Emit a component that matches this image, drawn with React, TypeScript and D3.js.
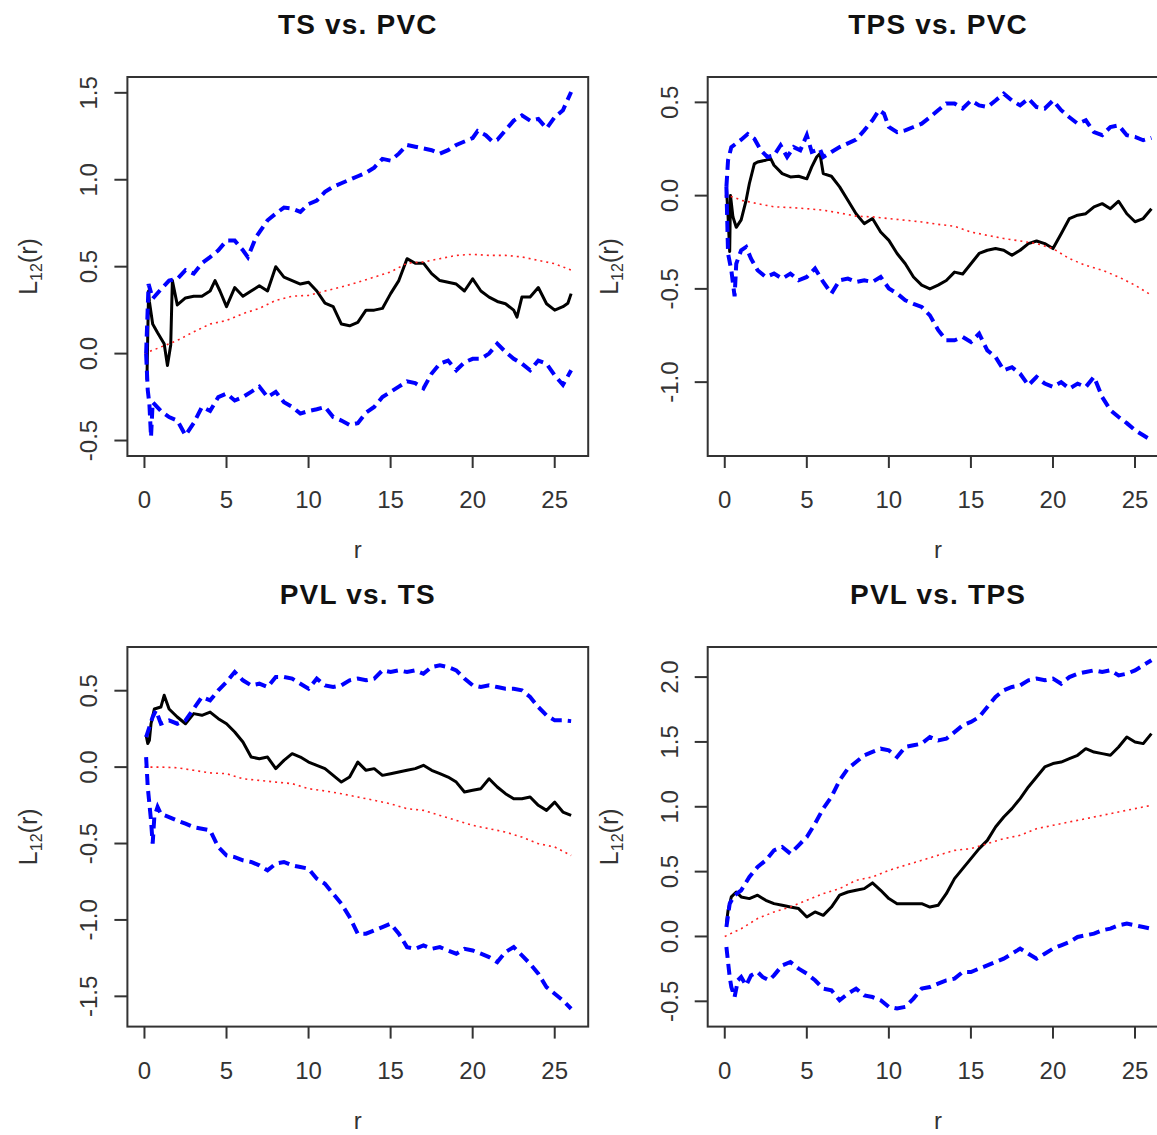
import React from "react";
import * as d3 from "d3";

// ---------- DATA (r, L12(r)) ----------
const TICKS_X = [0, 5, 10, 15, 20, 25];

// Panel 1: TS vs. PVC
const tsPvcObs: [number, number][] = [[0.15,-0.15],[0.25,0.36],[0.3,0.3],[0.5,0.17],[0.8,0.12],[1.2,0.057],[1.4,-0.068],[1.6,0.05],[1.7,0.42],[2,0.28],[2.5,0.32],[3,0.33],[3.5,0.33],[4,0.36],[4.3,0.42],[4.6,0.36],[5,0.27],[5.5,0.38],[6,0.33],[6.5,0.36],[7,0.39],[7.5,0.36],[8,0.5],[8.5,0.44],[9,0.42],[9.5,0.40],[10,0.41],[10.5,0.36],[11,0.29],[11.5,0.27],[12,0.17],[12.5,0.16],[13,0.18],[13.5,0.25],[14,0.25],[14.5,0.26],[15,0.345],[15.5,0.42],[16,0.546],[16.5,0.52],[17,0.52],[17.5,0.46],[18,0.42],[18.5,0.41],[19,0.40],[19.5,0.36],[20,0.43],[20.5,0.36],[21,0.325],[21.5,0.30],[22,0.287],[22.5,0.25],[22.7,0.21],[23,0.325],[23.5,0.325],[24,0.38],[24.5,0.287],[25,0.25],[25.5,0.27],[25.8,0.29],[26,0.345]];
const tsPvcTheo: [number, number][] = [[0,0],[1,0.038],[2,0.076],[3,0.125],[4,0.17],[5,0.19],[6,0.23],[7,0.26],[8,0.306],[9,0.33],[10,0.335],[11,0.36],[12,0.383],[13,0.41],[14,0.44],[15,0.47],[16,0.52],[17,0.527],[18,0.546],[19,0.565],[20,0.571],[21,0.565],[22,0.565],[23,0.556],[24,0.536],[25,0.517],[26,0.48]];
const tsPvcHi: [number, number][] = [[0.1,0.0],[0.25,0.40],[0.5,0.316],[1,0.37],[1.5,0.42],[2,0.43],[2.5,0.48],[3,0.46],[3.5,0.52],[4,0.555],[4.5,0.594],[5,0.65],[5.5,0.65],[6,0.594],[6.3,0.555],[6.8,0.67],[7.5,0.767],[8,0.805],[8.5,0.84],[9,0.834],[9.5,0.815],[10,0.86],[10.5,0.88],[11,0.93],[11.5,0.96],[12,0.98],[12.5,1.0],[13,1.02],[13.5,1.04],[14,1.07],[14.5,1.12],[15,1.11],[15.5,1.15],[16,1.20],[16.5,1.19],[17,1.18],[17.5,1.17],[18,1.15],[18.5,1.17],[19,1.20],[19.5,1.22],[20,1.24],[20.3,1.28],[20.8,1.256],[21.2,1.22],[21.5,1.23],[22,1.285],[22.5,1.34],[23,1.37],[23.5,1.34],[24,1.35],[24.5,1.295],[25,1.36],[25.5,1.40],[26,1.505]];
const tsPvcLo: [number, number][] = [[0.1,0.0],[0.2,-0.21],[0.3,-0.29],[0.4,-0.48],[0.5,-0.28],[1,-0.33],[1.5,-0.365],[2,-0.385],[2.5,-0.47],[3,-0.40],[3.5,-0.307],[4,-0.33],[4.5,-0.25],[5,-0.23],[5.5,-0.27],[6,-0.25],[6.5,-0.22],[7,-0.19],[7.5,-0.25],[8,-0.22],[8.5,-0.28],[9,-0.307],[9.5,-0.345],[10,-0.33],[10.5,-0.32],[11,-0.307],[11.5,-0.365],[12,-0.385],[12.5,-0.41],[13,-0.40],[13.5,-0.34],[14,-0.307],[14.5,-0.25],[15,-0.22],[15.5,-0.19],[16,-0.16],[16.5,-0.17],[17,-0.2],[17.5,-0.115],[18,-0.058],[18.5,-0.04],[19,-0.096],[19.5,-0.05],[20,-0.03],[20.5,-0.03],[21,0.0],[21.5,0.057],[22,0.01],[22.5,-0.03],[23,-0.058],[23.5,-0.096],[24,-0.04],[24.5,-0.058],[25,-0.125],[25.5,-0.18],[26,-0.096]];

// Panel 2: TPS vs. PVC
const tpsPvcObs: [number, number][] = [[0.1,0.047],[0.2,-0.11],[0.3,-0.3],[0.35,0.0],[0.5,-0.115],[0.7,-0.17],[1,-0.13],[1.3,-0.025],[1.5,0.065],[1.8,0.17],[2,0.18],[2.5,0.19],[2.8,0.198],[3,0.163],[3.5,0.118],[4,0.1],[4.5,0.104],[5,0.09],[5.3,0.154],[5.6,0.207],[5.8,0.225],[6,0.118],[6.5,0.104],[7,0.047],[7.5,-0.025],[8,-0.097],[8.5,-0.15],[9,-0.123],[9.5,-0.195],[10,-0.24],[10.5,-0.31],[11,-0.365],[11.5,-0.436],[12,-0.48],[12.5,-0.5],[13,-0.48],[13.5,-0.455],[14,-0.41],[14.5,-0.42],[15,-0.365],[15.5,-0.31],[16,-0.293],[16.5,-0.284],[17,-0.293],[17.5,-0.32],[18,-0.293],[18.5,-0.257],[19,-0.243],[19.5,-0.257],[20,-0.284],[20.5,-0.204],[21,-0.123],[21.5,-0.105],[22,-0.097],[22.5,-0.06],[23,-0.043],[23.5,-0.07],[24,-0.03],[24.5,-0.097],[25,-0.14],[25.5,-0.123],[26,-0.07]];
const tpsPvcTheo: [number, number][] = [[0,0],[0.5,-0.007],[1,-0.025],[2,-0.043],[3,-0.06],[4,-0.064],[5,-0.07],[6,-0.078],[7,-0.093],[8,-0.11],[9,-0.114],[10,-0.123],[11,-0.132],[12,-0.141],[13,-0.154],[14,-0.164],[15,-0.195],[16,-0.213],[17,-0.23],[18,-0.243],[19,-0.257],[20,-0.284],[21,-0.338],[22,-0.374],[23,-0.4],[24,-0.436],[25,-0.48],[26,-0.534]];
const tpsPvcHi: [number, number][] = [[0.1,0.047],[0.2,0.19],[0.4,0.26],[0.7,0.28],[1,0.30],[1.4,0.33],[1.8,0.305],[2.2,0.243],[2.6,0.207],[3,0.216],[3.4,0.27],[3.8,0.207],[4.2,0.26],[4.6,0.243],[5,0.324],[5.3,0.234],[5.8,0.25],[6,0.207],[6.5,0.234],[7,0.26],[7.5,0.28],[8,0.30],[8.5,0.35],[9,0.404],[9.4,0.458],[9.7,0.44],[10,0.368],[10.5,0.34],[11,0.35],[11.5,0.368],[12,0.386],[12.5,0.42],[13,0.458],[13.5,0.494],[14,0.494],[14.5,0.467],[15,0.51],[15.5,0.484],[16,0.475],[16.5,0.51],[17,0.547],[17.5,0.51],[18,0.484],[18.5,0.52],[19,0.475],[19.5,0.467],[20,0.51],[20.5,0.458],[21,0.42],[21.5,0.386],[22,0.404],[22.5,0.34],[23,0.324],[23.5,0.368],[24,0.377],[24.5,0.324],[25,0.315],[25.5,0.297],[26,0.31]];
const tpsPvcLo: [number, number][] = [[0.1,0.047],[0.2,-0.31],[0.4,-0.40],[0.6,-0.54],[0.7,-0.365],[1,-0.293],[1.3,-0.275],[1.6,-0.338],[2,-0.40],[2.5,-0.436],[3,-0.418],[3.5,-0.445],[4,-0.418],[4.5,-0.454],[5,-0.436],[5.5,-0.391],[6,-0.463],[6.5,-0.525],[7,-0.454],[7.5,-0.445],[8,-0.463],[8.5,-0.454],[9,-0.463],[9.5,-0.436],[10,-0.498],[10.5,-0.525],[11,-0.561],[11.5,-0.58],[12,-0.597],[12.5,-0.642],[13,-0.72],[13.5,-0.776],[14,-0.776],[14.5,-0.758],[15,-0.785],[15.5,-0.74],[16,-0.83],[16.5,-0.865],[17,-0.936],[17.5,-0.92],[18,-0.955],[18.5,-1.017],[19,-0.972],[19.5,-1.008],[20,-1.026],[20.5,-1.0],[21,-1.035],[21.5,-1.008],[22,-1.026],[22.5,-0.972],[23,-1.08],[23.5,-1.15],[24,-1.187],[24.5,-1.22],[25,-1.258],[25.5,-1.285],[26,-1.312]];

// Panel 3: PVL vs. TS
const pvlTsObs: [number, number][] = [[0.1,0.208],[0.2,0.154],[0.3,0.175],[0.4,0.284],[0.6,0.38],[1,0.393],[1.2,0.47],[1.5,0.38],[2,0.328],[2.5,0.284],[3,0.35],[3.5,0.339],[4,0.36],[4.5,0.317],[5,0.284],[5.5,0.23],[6,0.164],[6.5,0.066],[7,0.055],[7.5,0.066],[8,-0.01],[8.5,0.044],[9,0.088],[9.5,0.066],[10,0.033],[10.5,0.012],[11,-0.01],[11.5,-0.054],[12,-0.098],[12.5,-0.065],[13,0.033],[13.5,-0.021],[14,-0.01],[14.5,-0.054],[15,-0.043],[15.5,-0.032],[16,-0.021],[16.5,-0.01],[17,0.012],[17.5,-0.021],[18,-0.043],[18.5,-0.065],[19,-0.098],[19.5,-0.163],[20,-0.152],[20.5,-0.141],[21,-0.076],[21.5,-0.13],[22,-0.174],[22.5,-0.207],[23,-0.207],[23.5,-0.196],[24,-0.25],[24.5,-0.283],[25,-0.229],[25.5,-0.294],[26,-0.316]];
const pvlTsTheo: [number, number][] = [[0,0],[1,0.0],[2,-0.004],[3,-0.021],[4,-0.038],[5,-0.043],[6,-0.076],[7,-0.087],[8,-0.098],[9,-0.108],[10,-0.141],[11,-0.156],[12,-0.174],[13,-0.196],[14,-0.217],[15,-0.24],[16,-0.272],[17,-0.283],[18,-0.316],[19,-0.349],[20,-0.381],[21,-0.403],[22,-0.425],[23,-0.458],[24,-0.501],[25,-0.523],[26,-0.578]];
const pvlTsHi: [number, number][] = [[0.1,0.197],[0.3,0.262],[0.5,0.328],[0.7,0.371],[1,0.284],[1.5,0.306],[2,0.284],[2.5,0.306],[3,0.382],[3.5,0.459],[4,0.437],[4.5,0.502],[5,0.557],[5.5,0.622],[6,0.568],[6.5,0.535],[7,0.546],[7.5,0.524],[8,0.59],[8.5,0.59],[9,0.579],[9.5,0.546],[10,0.513],[10.5,0.579],[11,0.535],[11.5,0.524],[12,0.535],[12.5,0.568],[13,0.579],[13.5,0.568],[14,0.579],[14.5,0.633],[15,0.622],[15.5,0.633],[16,0.622],[16.5,0.633],[17,0.611],[17.5,0.655],[18,0.666],[18.5,0.655],[19,0.633],[19.5,0.579],[20,0.535],[20.5,0.524],[21,0.535],[21.5,0.524],[22,0.513],[22.5,0.513],[23,0.502],[23.5,0.459],[24,0.393],[24.5,0.339],[25,0.306],[25.5,0.306],[26,0.301]];
const pvlTsLo: [number, number][] = [[0.1,0.066],[0.2,-0.13],[0.3,-0.24],[0.4,-0.35],[0.5,-0.50],[0.6,-0.327],[0.8,-0.26],[1,-0.306],[1.5,-0.327],[2,-0.35],[2.5,-0.37],[3,-0.393],[3.5,-0.403],[4,-0.414],[4.5,-0.523],[5,-0.578],[5.5,-0.589],[6,-0.61],[6.5,-0.621],[7,-0.643],[7.5,-0.676],[8,-0.632],[8.5,-0.621],[9,-0.643],[9.5,-0.654],[10,-0.665],[10.5,-0.73],[11,-0.763],[11.5,-0.829],[12,-0.894],[12.5,-0.981],[13,-1.09],[13.5,-1.09],[14,-1.068],[14.5,-1.047],[15,-1.025],[15.5,-1.09],[16,-1.178],[16.5,-1.189],[17,-1.167],[17.5,-1.189],[18,-1.178],[18.5,-1.2],[19,-1.221],[19.5,-1.189],[20,-1.2],[20.5,-1.221],[21,-1.243],[21.5,-1.276],[22,-1.21],[22.5,-1.178],[23,-1.232],[23.5,-1.287],[24,-1.352],[24.5,-1.44],[25,-1.483],[25.5,-1.527],[26,-1.581]];

// Panel 4: PVL vs. TPS
const pvlTpsObs: [number, number][] = [[0.1,0.099],[0.2,0.2],[0.4,0.305],[0.7,0.343],[1,0.305],[1.5,0.292],[2,0.318],[2.5,0.279],[3,0.253],[3.5,0.24],[4,0.227],[4.5,0.215],[5,0.15],[5.5,0.189],[6,0.163],[6.5,0.227],[7,0.318],[7.5,0.343],[8,0.356],[8.5,0.369],[9,0.413],[9.5,0.356],[10,0.292],[10.5,0.253],[11,0.253],[11.5,0.253],[12,0.253],[12.5,0.227],[13,0.24],[13.5,0.33],[14,0.446],[14.5,0.523],[15,0.6],[15.5,0.677],[16,0.741],[16.5,0.844],[17,0.921],[17.5,0.986],[18,1.063],[18.5,1.153],[19,1.23],[19.5,1.307],[20,1.333],[20.5,1.345],[21,1.371],[21.5,1.397],[22,1.448],[22.5,1.422],[23,1.41],[23.5,1.397],[24,1.461],[24.5,1.538],[25,1.5],[25.5,1.487],[26,1.564]];
const pvlTpsTheo: [number, number][] = [[0,0],[1,0.06],[2,0.138],[3,0.189],[4,0.227],[5,0.279],[6,0.33],[7,0.369],[8,0.433],[9,0.459],[10,0.51],[11,0.549],[12,0.587],[13,0.626],[14,0.664],[15,0.677],[16,0.716],[17,0.754],[18,0.78],[19,0.831],[20,0.857],[21,0.883],[22,0.908],[23,0.934],[24,0.96],[25,0.986],[26,1.011]];
const pvlTpsHi: [number, number][] = [[0.1,0.073],[0.3,0.253],[0.6,0.318],[1,0.356],[1.5,0.459],[2,0.536],[2.5,0.587],[3,0.664],[3.5,0.69],[4,0.639],[4.5,0.703],[5,0.767],[5.5,0.87],[6,0.986],[6.5,1.076],[7,1.204],[7.5,1.294],[8,1.345],[8.5,1.397],[9,1.423],[9.5,1.448],[10,1.435],[10.5,1.384],[11,1.461],[11.5,1.474],[12,1.487],[12.5,1.538],[13,1.512],[13.5,1.525],[14,1.576],[14.5,1.628],[15,1.654],[15.5,1.692],[16,1.769],[16.5,1.847],[17,1.898],[17.5,1.924],[18,1.936],[18.5,1.975],[19,1.988],[19.5,1.975],[20,1.988],[20.5,1.949],[21,2.0],[21.5,2.026],[22,2.039],[22.5,2.052],[23,2.039],[23.5,2.052],[24,2.013],[24.5,2.026],[25,2.052],[25.5,2.091],[26,2.13]];
const pvlTpsLo: [number, number][] = [[0.1,-0.081],[0.2,-0.197],[0.3,-0.312],[0.4,-0.39],[0.6,-0.467],[0.8,-0.338],[1,-0.312],[1.3,-0.377],[1.6,-0.3],[2,-0.274],[2.3,-0.312],[2.7,-0.338],[3,-0.3],[3.5,-0.223],[4,-0.197],[4.5,-0.248],[5,-0.287],[5.5,-0.338],[6,-0.402],[6.5,-0.415],[7,-0.492],[7.5,-0.441],[8,-0.402],[8.5,-0.454],[9,-0.467],[9.5,-0.492],[10,-0.543],[10.5,-0.556],[11,-0.543],[11.5,-0.479],[12,-0.402],[12.5,-0.39],[13,-0.364],[13.5,-0.338],[14,-0.325],[14.5,-0.274],[15,-0.274],[15.5,-0.248],[16,-0.223],[16.5,-0.197],[17,-0.171],[17.5,-0.133],[18,-0.094],[18.5,-0.133],[19,-0.171],[19.5,-0.133],[20,-0.094],[20.5,-0.068],[21,-0.042],[21.5,-0.004],[22,0.009],[22.5,0.022],[23,0.048],[23.5,0.06],[24,0.086],[24.5,0.099],[25,0.086],[25.5,0.073],[26,0.06]];

const panelTitles = ["TS vs. PVC", "TPS vs. PVC", "PVL vs. TS", "PVL vs. TPS"];
const panelYLimits: [number, number][] = [[-0.589, 1.591], [-1.396, 0.636], [-1.698, 0.786], [-0.695, 2.232]];
const panelYTicks: number[][] = [
  [-0.5, 0, 0.5, 1, 1.5],
  [-1, -0.5, 0, 0.5],
  [-1.5, -1, -0.5, 0, 0.5],
  [-0.5, 0, 0.5, 1, 1.5, 2],
];
const panelSeries = [
  { obs: tsPvcObs, theo: tsPvcTheo, hi: tsPvcHi, lo: tsPvcLo },
  { obs: tpsPvcObs, theo: tpsPvcTheo, hi: tpsPvcHi, lo: tpsPvcLo },
  { obs: pvlTsObs, theo: pvlTsTheo, hi: pvlTsHi, lo: pvlTsLo },
  { obs: pvlTpsObs, theo: pvlTpsTheo, hi: pvlTpsHi, lo: pvlTpsLo },
];

// ---------- LAYOUT ----------
const X_LIM: [number, number] = [-1.04, 27.04];
const COLS: [number, number][] = [[127.4, 588.2], [707.7, 1168.5]];
const ROWS: [number, number][] = [[77, 456], [647, 1026.6]];
const FONT = "'Liberation Sans', Arial, Helvetica, sans-serif";

function fmt(v: number) {
  return v.toFixed(1);
}

function Panel({ idx }: { idx: number }) {
  const [left, right] = COLS[idx % 2];
  const [top, bottom] = ROWS[Math.floor(idx / 2)];
  const x = d3.scaleLinear().domain(X_LIM).range([left, right]);
  const y = d3.scaleLinear().domain(panelYLimits[idx]).range([bottom, top]);
  const line = d3
    .line<[number, number]>()
    .x((d) => x(d[0]))
    .y((d) => y(d[1]));
  const s = panelSeries[idx];
  const cx = (left + right) / 2;
  const cy = (top + bottom) / 2;
  const clipId = `clip${idx}`;
  return (
    <g>
      <defs>
        <clipPath id={clipId}>
          <rect x={left} y={top} width={right - left} height={bottom - top} />
        </clipPath>
      </defs>
      <text
        x={cx}
        y={top - 43}
        textAnchor="middle"
        fontFamily={FONT}
        fontWeight="bold"
        fontSize={28}
        letterSpacing={1.2}
        fill="#111"
      >
        {panelTitles[idx]}
      </text>
      <g clipPath={`url(#${clipId})`}>
        <path d={line(s.obs) || ""} fill="none" stroke="#000" strokeWidth={3} strokeLinejoin="round" />
        <path d={line(s.theo) || ""} fill="none" stroke="#ff2020" strokeWidth={1.6} strokeDasharray="2 4" />
        <path d={line(s.hi) || ""} fill="none" stroke="#0000ff" strokeWidth={4} strokeDasharray="11 6" />
        <path d={line(s.lo) || ""} fill="none" stroke="#0000ff" strokeWidth={4} strokeDasharray="11 6" />
      </g>
      <rect x={left} y={top} width={right - left} height={bottom - top} fill="none" stroke="#333" strokeWidth={2} />
      {TICKS_X.map((t) => (
        <g key={`x${t}`}>
          <line x1={x(t)} x2={x(t)} y1={bottom} y2={bottom + 12} stroke="#333" strokeWidth={2} />
          <text x={x(t)} y={bottom + 52} textAnchor="middle" fontFamily={FONT} fontSize={24} fill="#333">
            {t}
          </text>
        </g>
      ))}
      {panelYTicks[idx].map((t) => (
        <g key={`y${t}`}>
          <line x1={left - 13} x2={left} y1={y(t)} y2={y(t)} stroke="#333" strokeWidth={2} />
          <text
            transform={`translate(${left - 30},${y(t)}) rotate(-90)`}
            textAnchor="middle"
            fontFamily={FONT}
            fontSize={24}
            fill="#333"
          >
            {fmt(t)}
          </text>
        </g>
      ))}
      <text x={cx} y={bottom + 102} textAnchor="middle" fontFamily={FONT} fontSize={24} fill="#333">
        r
      </text>
      <text
        transform={`translate(${left - 90},${cy}) rotate(-90)`}
        textAnchor="middle"
        fontFamily={FONT}
        fontSize={25}
        fill="#333"
      >
        L
        <tspan fontSize={16} dy={5}>12</tspan>
        <tspan dy={-5}>(r)</tspan>
      </text>
    </g>
  );
}

export default function App() {
  return (
    <svg
      width={1157}
      height={1135}
      style={{ position: "absolute", left: 0, top: 0, background: "#fff" }}
    >
      <rect x={0} y={0} width={1157} height={1135} fill="#fff" />
      {[0, 1, 2, 3].map((i) => (
        <Panel key={i} idx={i} />
      ))}
    </svg>
  );
}
